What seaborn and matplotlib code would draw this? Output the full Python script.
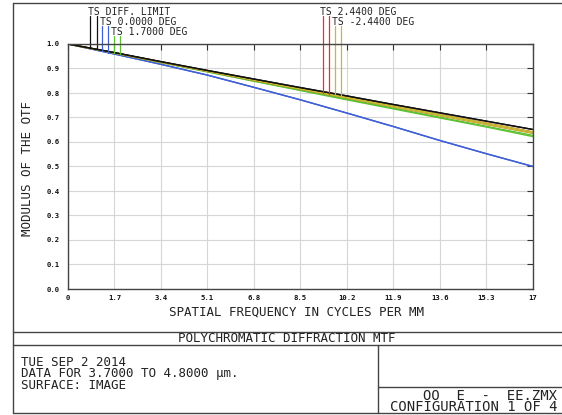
import numpy as np
import pandas as pd
import seaborn as sns
import matplotlib.pyplot as plt
from matplotlib.lines import Line2D

# spatial frequency samples (cycles/mm)
freq = [0, 1.7, 3.4, 5.1, 6.8, 8.5, 10.2, 11.9, 13.6, 15.3, 17]
freq_labels = ['0', '1.7', '3.4', '5.1', '6.8', '8.5', '10.2', '11.9', '13.6', '15.3', '17']
mtf_ticks = [0.0, 0.1, 0.2, 0.3, 0.4, 0.5, 0.6, 0.7, 0.8, 0.9, 1.0]

# MTF values (T and S per field)
diff_t = [1.0, 0.965, 0.928, 0.892, 0.857, 0.822, 0.788, 0.753, 0.719, 0.685, 0.651]
diff_s = [1.0, 0.965, 0.928, 0.892, 0.857, 0.822, 0.788, 0.753, 0.719, 0.685, 0.651]
f00_t = [1.0, 0.959, 0.917, 0.873, 0.823, 0.772, 0.718, 0.663, 0.606, 0.552, 0.500]
f00_s = [1.0, 0.959, 0.917, 0.873, 0.823, 0.772, 0.718, 0.663, 0.606, 0.552, 0.500]
f17_t = [1.0, 0.963, 0.925, 0.887, 0.849, 0.812, 0.775, 0.738, 0.701, 0.664, 0.627]
f17_s = [1.0, 0.963, 0.924, 0.886, 0.848, 0.810, 0.772, 0.735, 0.698, 0.661, 0.622]
f244_t = [1.0, 0.964, 0.927, 0.890, 0.854, 0.818, 0.783, 0.747, 0.712, 0.677, 0.641]
f244_s = [1.0, 0.964, 0.926, 0.889, 0.852, 0.816, 0.780, 0.744, 0.708, 0.672, 0.636]
fm244_t = [1.0, 0.964, 0.927, 0.890, 0.854, 0.818, 0.783, 0.747, 0.712, 0.677, 0.641]
fm244_s = [1.0, 0.964, 0.926, 0.889, 0.852, 0.816, 0.780, 0.744, 0.708, 0.672, 0.636]

series = {
    '0.0 T': f00_t, '0.0 S': f00_s,
    '1.7 T': f17_t, '1.7 S': f17_s,
    '2.44 T': f244_t, '2.44 S': f244_s,
    '-2.44 T': fm244_t, '-2.44 S': fm244_s,
    'DIFF T': diff_t, 'DIFF S': diff_s,
}
colors = {
    '0.0 T': '#3f5fd6', '0.0 S': '#3f5fd6',
    '1.7 T': '#5cc233', '1.7 S': '#5cc233',
    '2.44 T': '#e8312a', '2.44 S': '#e8312a',
    '-2.44 T': '#c4bd30', '-2.44 S': '#c4bd30',
    'DIFF T': '#111111', 'DIFF S': '#111111',
}

# legend labels and the x of their little drop lines
legend_labels = ['TS DIFF. LIMIT', 'TS 0.0000 DEG', 'TS 1.7000 DEG', 'TS 2.4400 DEG', 'TS -2.4400 DEG']
legend_keys = [('DIFF T', 'DIFF S'), ('0.0 T', '0.0 S'), ('1.7 T', '1.7 S'),
               ('2.44 T', '2.44 S'), ('-2.44 T', '-2.44 S')]
legend_text_x = [0.73, 1.17, 1.57, 9.21, 9.65]
legend_text_y = [1.131, 1.090, 1.049, 1.131, 1.090]
legend_line_x = [(0.80, 1.06), (1.24, 1.46), (1.68, 1.90), (9.32, 9.54), (9.76, 9.98)]

info_left = ['TUE SEP 2 2014', 'DATA FOR 3.7000 TO 4.8000 μm.', 'SURFACE: IMAGE']
info_right = ['OO  E  -  EE.ZMX', 'CONFIGURATION 1 OF 4']

rows = []
for name, vals in series.items():
    for f, v in zip(freq, vals):
        rows.append({'freq': f, 'mtf': v, 'series': name})
df = pd.DataFrame(rows)

sns.set_style('white')
plt.rcParams['font.family'] = ['DejaVu Sans Mono']

W, H = 562, 415
fig = plt.figure(figsize=(W / 100, H / 100), dpi=100)


def fx(x):
    return x / W


def fy(y):
    return 1 - y / H


ax = fig.add_axes([fx(68), fy(289), (533 - 68) / W, (289 - 44) / H])
order = list(series.keys())
sns.lineplot(data=df, x='freq', y='mtf', hue='series', hue_order=order,
             palette=colors, legend=False, ax=ax, linewidth=1.0,
             estimator=None, sort=False)

ax.set_xlim(0, 17)
ax.set_ylim(0, 1)
ax.set_xticks(freq)
ax.set_xticklabels(freq_labels)
ax.set_yticks(mtf_ticks)
ax.set_yticklabels([f'{t:.1f}' for t in mtf_ticks])
ax.grid(True, color='#d6d6d6', linewidth=0.8)
ax.set_axisbelow(True)
ax.tick_params(direction='in', length=4, width=0.8, color='#333333',
               top=True, right=True, labelsize=5.2)
ax.tick_params(axis='x', pad=4)
ax.tick_params(axis='y', pad=6)
for lbl in ax.get_xticklabels() + ax.get_yticklabels():
    lbl.set_fontweight('bold')
    lbl.set_color('#111111')
for sp in ax.spines.values():
    sp.set_color('#444444')
    sp.set_linewidth(1.0)

ax.set_xlabel('SPATIAL FREQUENCY IN CYCLES PER MM', fontsize=9, color='#222222')
ax.xaxis.set_label_coords(0.492, -0.094)
ax.xaxis.label.set_va('center')
ax.set_ylabel('MODULUS OF THE OTF', fontsize=9, color='#222222')
ax.yaxis.set_label_coords(-0.088, 0.49)
ax.yaxis.label.set_va('center')

# field labels with drop lines to their curves
for label, keys, tx, ty, lx in zip(legend_labels, legend_keys, legend_text_x,
                                   legend_text_y, legend_line_x):
    ax.text(tx, ty, label, fontsize=7, va='center', ha='left',
            color='#222222', clip_on=False)
    for k, x in zip(keys, lx):
        y_curve = np.interp(x, freq, series[k])
        ax.plot([x, x], [y_curve, ty - 0.018], color=colors[k],
                linewidth=0.9, clip_on=False)

# frame and info box
lc = '#444444'
frame_lines = [
    ((13, 13), (3, 413)),
    ((13, 562), (3, 3)),
    ((13, 562), (332, 332)),
    ((13, 562), (345, 345)),
    ((13, 562), (413, 413)),
    ((378, 378), (345, 413)),
    ((378, 562), (387, 387)),
]
for xs, ys in frame_lines:
    fig.add_artist(Line2D([fx(x) for x in xs], [fy(y) for y in ys],
                          transform=fig.transFigure, color=lc, linewidth=1.0))

fig.text(fx(287), fy(338.5), 'POLYCHROMATIC DIFFRACTION MTF', fontsize=9,
         ha='center', va='center', color='#222222')
fig.text(fx(21), fy(373.5), '\n'.join(info_left), fontsize=9, ha='left',
         va='center', linespacing=0.85, color='#222222')
fig.text(fx(557), fy(401.5), '\n'.join(info_right), fontsize=10, ha='right',
         va='center', multialignment='right', linespacing=0.8, color='#222222')

fig.savefig('out.png', dpi=100, facecolor='white')
